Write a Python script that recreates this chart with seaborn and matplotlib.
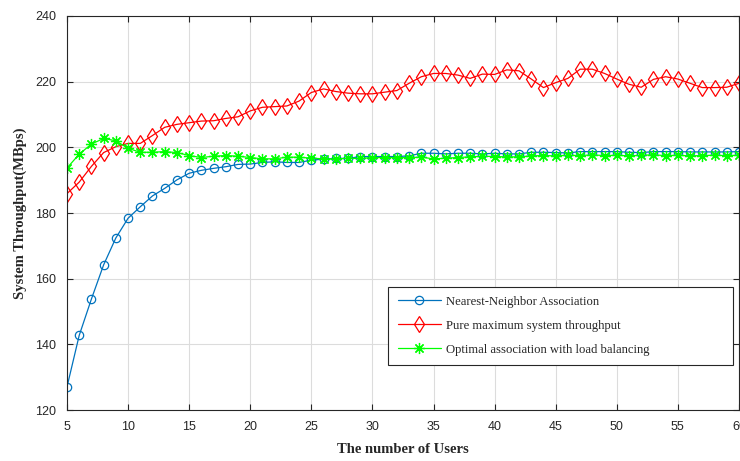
import matplotlib
matplotlib.use('Agg')
import matplotlib.pyplot as plt
from matplotlib.patches import Rectangle
import seaborn as sns
import pandas as pd

# number of users, 5..60
users = list(range(5, 61))

nearest = [127.0, 142.7, 153.8, 164.2, 172.4, 178.4, 181.9, 185.2, 187.5, 190.1,
           192.1, 193.0, 193.6, 194.1, 194.8, 194.9, 195.4, 195.6, 195.4, 195.4,
           196.1, 196.4, 196.6, 196.6, 197.2, 197.2, 197.2, 197.2, 197.4, 198.2,
           198.2, 198.0, 198.2, 198.2, 198.0, 198.2, 198.0, 198.0, 198.5, 198.5,
           198.4, 198.3, 198.7, 198.7, 198.7, 198.7, 198.5, 198.4, 198.7, 198.7,
           198.7, 198.6, 198.6, 198.6, 198.6, 198.7]

pure_max = [185.9, 189.4, 194.2, 198.4, 200.2, 201.2, 201.2, 203.6, 206.1, 207.0,
            207.5, 208.0, 208.1, 208.8, 209.3, 211.1, 212.2, 212.4, 212.6, 214.1,
            216.7, 217.8, 217.0, 216.5, 216.3, 216.3, 216.8, 217.3, 219.5, 221.5,
            222.5, 222.5, 222.0, 221.0, 222.3, 222.2, 223.6, 223.3, 220.8, 218.2,
            219.7, 221.0, 223.8, 223.8, 222.5, 220.8, 219.2, 218.3, 220.7, 221.5,
            220.8, 219.5, 218.2, 218.2, 218.3, 219.5]

load_bal = [193.7, 197.9, 201.0, 202.7, 202.0, 199.7, 198.5, 198.5, 198.7, 198.4,
            197.5, 196.9, 197.3, 197.5, 197.3, 196.9, 196.5, 196.5, 197.0, 197.0,
            196.7, 196.5, 196.5, 196.7, 196.6, 196.9, 196.9, 196.9, 196.9, 197.0,
            196.5, 196.7, 196.9, 197.1, 197.3, 197.2, 197.1, 197.1, 197.4, 197.5,
            197.4, 197.6, 197.5, 197.7, 197.5, 197.6, 197.4, 197.6, 197.7, 197.5,
            197.6, 197.4, 197.5, 197.6, 197.5, 197.6]

labels = ['Nearest-Neighbor Association',
          'Pure maximum system throughput',
          'Optimal association with load balancing']

df = pd.DataFrame({'users': users, labels[0]: nearest,
                   labels[1]: pure_max, labels[2]: load_bal})

sns.set_theme(style='ticks')
plt.rcParams['font.family'] = ['Liberation Sans', 'DejaVu Sans']

fig, ax = plt.subplots(figsize=(7.4, 4.61), dpi=100)
fig.subplots_adjust(left=0.0905, right=0.9986, top=0.9653, bottom=0.1106)

# matlab-like markers: open circle, open diamond, asterisk
styles = [
    dict(color='#0072BD', marker='o', markersize=6),
    dict(color='#FF0000', marker='d', markersize=8),
    dict(color='#00FF00', marker=(8, 2, 0), markersize=8),
]
for lab, st in zip(labels, styles):
    sns.lineplot(data=df, x='users', y=lab, ax=ax, label=lab,
                 color=st['color'], marker=st['marker'], markersize=st['markersize'],
                 markerfacecolor='none', markeredgecolor=st['color'],
                 markeredgewidth=0.9, linewidth=0.9)

ax.set_xlim(5, 60)
ax.set_ylim(120, 240)
ax.set_xticks(range(5, 61, 5))
ax.set_yticks(range(120, 241, 20))
ax.grid(True, color='#DCDCDC', linewidth=0.8)
ax.set_axisbelow(True)
ax.tick_params(direction='in', top=True, right=True, labelsize=9,
               colors='#262626', length=4, width=0.8, pad=8)
for s in ax.spines.values():
    s.set_linewidth(0.8)
    s.set_color('#262626')

ax.set_xlabel('The number of Users', family='Liberation Serif',
              fontweight='bold', fontsize=10.5, color='#262626', labelpad=7)
ax.set_ylabel('System Throughput(MBps)', family='Liberation Serif',
              fontweight='bold', fontsize=10.5, color='#262626', labelpad=6)

# legend entries without frame, then a wide box like the original
leg = ax.legend(loc='upper left', bbox_to_anchor=(0.4926, 0.290),
                prop={'family': 'Liberation Serif', 'size': 9.1},
                frameon=False, handlelength=3.4, handletextpad=0.4,
                borderpad=0, borderaxespad=0, labelspacing=0.95)
ax.add_patch(Rectangle((0.4777, 0.1142), 0.5134, 0.198, transform=ax.transAxes,
                       facecolor='white', edgecolor='#262626', linewidth=0.8,
                       zorder=4))
leg.set_zorder(5)

fig.savefig('out.png', dpi=100)
